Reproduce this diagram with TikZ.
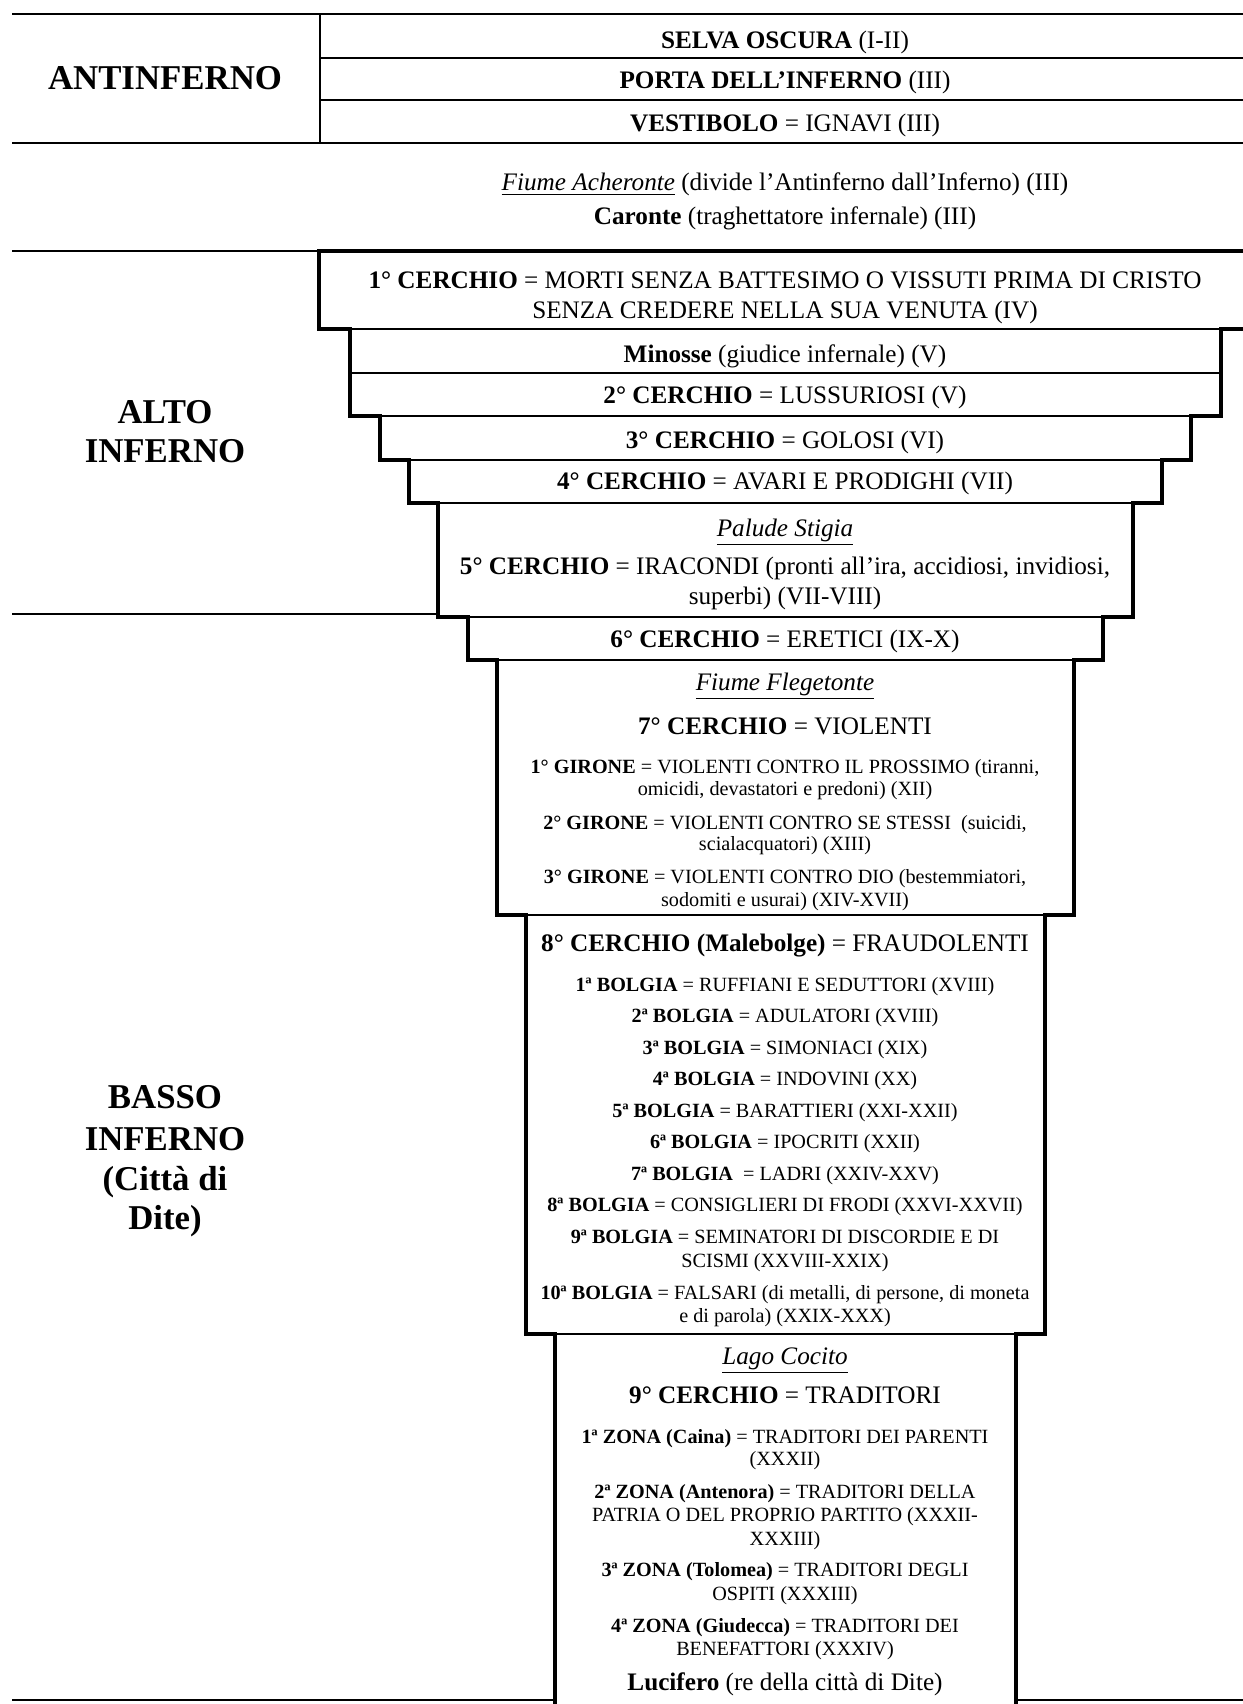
\documentclass[tikz,border=0pt]{standalone}
\usepackage{fontspec}
\setmainfont{Liberation Serif}
\begin{document}
\begin{tikzpicture}[x=0.5pt,y=-0.5pt,
  big/.style={font=\fontsize{12.6}{14}\selectfont, anchor=base, inner sep=0pt},
  small/.style={font=\fontsize{10.1}{11}\selectfont, anchor=base, inner sep=0pt},
  lab/.style={font=\fontsize{17.4}{20}\selectfont\bfseries, anchor=base, inner sep=0pt},
  outline/.style={draw=black, line width=2pt, line join=miter},
  inner/.style={draw=black, line width=0.75pt},
  rule/.style={draw=black, line width=0.7pt},
  thinrule/.style={draw=black, line width=0.6pt}]
\fill[white] (0,0) rectangle (1243,1704);
\useasboundingbox (0,0) rectangle (1243,1704);
\clip (0,0) rectangle (1243,1704);

% ---------- Antinferno table
\draw[rule] (12,14) -- (1243,14);
\draw[thinrule] (320,14) -- (320,143);
\draw[rule] (320,58) -- (1243,58);
\draw[rule] (320,100) -- (1243,100);
\draw[rule] (12,143) -- (1243,143);

% ---------- separators on the left
\draw[line width=1.2pt] (12,251) -- (319,251);
\draw[line width=0.7pt] (12,614) -- (438,614);
\draw[line width=1.2pt] (12,1700) -- (555,1700);
\draw[line width=1.2pt] (1016,1700) -- (1243,1700);

% ---------- funnel: interior separators
\draw[inner] (350,329) -- (1221,329);
\draw[inner] (350,373) -- (1221,373);
\draw[inner] (380,416) -- (1191,416);
\draw[inner] (409,460) -- (1162,460);
\draw[inner] (438,503) -- (1133,503);
\draw[inner] (468,617) -- (1103,617);
\draw[inner] (497,660) -- (1074,660);
\draw[inner] (526,915) -- (1045,915);
\draw[inner] (555,1334) -- (1016,1334);

% ---------- funnel: stepped outline
\draw[outline] (1270,251) -- (319,251) -- (319,329) -- (350,329) -- (350,416)
  -- (380,416) -- (380,460) -- (409,460) -- (409,503) -- (438,503) -- (438,617)
  -- (468,617) -- (468,660) -- (497,660) -- (497,915) -- (526,915) -- (526,1334)
  -- (555,1334) -- (555,1730);
\draw[outline] (1016,1730) -- (1016,1334) -- (1045,1334) -- (1045,915) -- (1074,915)
  -- (1074,660) -- (1103,660) -- (1103,617) -- (1133,617) -- (1133,503) -- (1162,503)
  -- (1162,460) -- (1191,460) -- (1191,416) -- (1221,416) -- (1221,329) -- (1270,329);

% ---------- left labels
\node[lab] (anti) at (165,89.5) {ANTINFERNO};
\node[lab] (alto1) at (165,423.5) {ALTO};
\node[lab] (alto2) at (165,462.5) {INFERNO};
\node[lab] (basso1) at (165,1108.5) {BASSO};
\node[lab] (basso2) at (165,1150.5) {INFERNO};
\node[lab] (basso3) at (165,1190.5) {(Città di};
\node[lab] (basso4) at (165,1229.5) {Dite)};

% ---------- Antinferno texts
\node[big] (selva) at (785,48.5) {\textbf{SELVA OSCURA} (I-II)};
\node[big] (porta) at (785,88.7) {\textbf{PORTA DELL’INFERNO} (III)};
\node[big] (vest) at (785,131.1) {\textbf{VESTIBOLO} = IGNAVI (III)};
\node[big] (acher) at (785,190.8) {\underline{\textit{Fiume Acheronte}} (divide l’Antinferno dall’Inferno) (III)};
\node[big] (caronte) at (785,224.5) {\textbf{Caronte} (traghettatore infernale) (III)};

% ---------- Alto Inferno
\node[big] (c1a) at (785,288.6) {\textbf{1° CERCHIO} = MORTI SENZA BATTESIMO O VISSUTI PRIMA DI CRISTO};
\node[big] (c1b) at (785,318) {SENZA CREDERE NELLA SUA VENUTA (IV)};
\node[big] (minosse) at (785,362.5) {\textbf{Minosse} (giudice infernale) (V)};
\node[big] (c2) at (785,403.8) {\textbf{2° CERCHIO} = LUSSURIOSI (V)};
\node[big] (c3) at (785,448.3) {\textbf{3° CERCHIO} = GOLOSI (VI)};
\node[big] (c4) at (785,489.7) {\textbf{4° CERCHIO} = AVARI E PRODIGHI (VII)};
\node[big] (stigia) at (785,536.3) {\underline{\textit{Palude Stigia}}};
\node[big] (c5a) at (785,574.3) {\textbf{5° CERCHIO} = IRACONDI (pronti all’ira, accidiosi, invidiosi,};
\node[big] (c5b) at (785,604.8) {superbi) (VII-VIII)};

% ---------- Basso Inferno
\node[big] (c6) at (785,647.3) {\textbf{6° CERCHIO} = ERETICI (IX-X)};
\node[big] (fleg) at (785,690.7) {\underline{\textit{Fiume Flegetonte}}};
\node[big] (c7) at (785,734.2) {\textbf{7° CERCHIO} = VIOLENTI};
\node[small] (g1a) at (785,773.7) {\textbf{1° GIRONE} = VIOLENTI CONTRO IL PROSSIMO (tiranni,};
\node[small] (g1b) at (785,795.5) {omicidi, devastatori e predoni) (XII)};
\node[small] (g2a) at (785,829.2) {\textbf{2° GIRONE} = VIOLENTI CONTRO SE STESSI\ \ (suicidi,};
\node[small] (g2b) at (785,850.9) {scialacquatori) (XIII)};
\node[small] (g3a) at (785,883.5) {\textbf{3° GIRONE} = VIOLENTI CONTRO DIO (bestemmiatori,};
\node[small] (g3b) at (785,906.3) {sodomiti e usurai) (XIV-XVII)};

\node[big] (c8) at (785,951.5) {\textbf{8° CERCHIO (Malebolge)} = FRAUDOLENTI};
\node[small] (b1) at (785,991.1) {\textbf{1ª BOLGIA} = RUFFIANI E SEDUTTORI (XVIII)};
\node[small] (b2) at (785,1022.6) {\textbf{2ª BOLGIA} = ADULATORI (XVIII)};
\node[small] (b3) at (785,1054.1) {\textbf{3ª BOLGIA} = SIMONIACI (XIX)};
\node[small] (b4) at (785,1085.6) {\textbf{4ª BOLGIA} = INDOVINI (XX)};
\node[small] (b5) at (785,1117.1) {\textbf{5ª BOLGIA} = BARATTIERI (XXI-XXII)};
\node[small] (b6) at (785,1148.6) {\textbf{6ª BOLGIA} = IPOCRITI (XXII)};
\node[small] (b7) at (785,1180.1) {\textbf{7ª BOLGIA}\ \ = LADRI (XXIV-XXV)};
\node[small] (b8) at (785,1211.6) {\textbf{8ª BOLGIA} = CONSIGLIERI DI FRODI (XXVI-XXVII)};
\node[small] (b9a) at (785,1243.2) {\textbf{9ª BOLGIA} = SEMINATORI DI DISCORDIE E DI};
\node[small] (b9b) at (785,1267.1) {SCISMI (XXVIII-XXIX)};
\node[small] (b10a) at (785,1299.6) {\textbf{10ª BOLGIA} = FALSARI (di metalli, di persone, di moneta};
\node[small] (b10b) at (785,1322.6) {e di parola) (XXIX-XXX)};

\node[big] (cocito) at (785,1364.3) {\underline{\textit{Lago Cocito}}};
\node[big] (c9) at (785,1403.3) {\textbf{9° CERCHIO} = TRADITORI};
\node[small] (z1a) at (785,1443.1) {\textbf{1ª ZONA (Caina)} = TRADITORI DEI PARENTI};
\node[small] (z1b) at (785,1465.9) {(XXXII)};
\node[small] (z2a) at (785,1498.6) {\textbf{2ª ZONA (Antenora)} = TRADITORI DELLA};
\node[small] (z2b) at (785,1521.3) {PATRIA O DEL PROPRIO PARTITO (XXXII-};
\node[small] (z2c) at (785,1545.2) {XXXIII)};
\node[small] (z3a) at (785,1576.6) {\textbf{3ª ZONA (Tolomea)} = TRADITORI DEGLI};
\node[small] (z3b) at (785,1600.6) {OSPITI (XXXIII)};
\node[small] (z4a) at (785,1632.2) {\textbf{4ª ZONA (Giudecca)} = TRADITORI DEI};
\node[small] (z4b) at (785,1655) {BENEFATTORI (XXXIV)};
\node[big] (lucifero) at (785,1690.3) {\textbf{Lucifero} (re della città di Dite)};
\end{tikzpicture}
\end{document}
